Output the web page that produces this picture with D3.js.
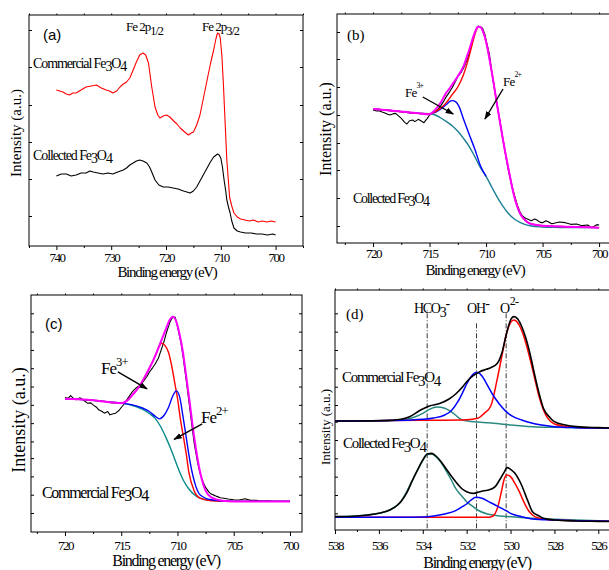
<!DOCTYPE html>
<html>
<head>
<meta charset="utf-8">
<script src="https://cdn.jsdelivr.net/npm/d3@7"></script>
<style>
body{margin:0;background:#fff}
.sf{font-family:"Liberation Serif","DejaVu Serif","Times New Roman",serif}
.ss{font-family:"Liberation Sans",Arial,sans-serif}
</style>
</head>
<body>
<svg id="fig" width="609" height="570"></svg>
<script>
// (a) Fe 2p survey, [binding energy eV, intensity a.u.]
const aCommercial = [[740,156],[739.4,155],[738.8,154],[738.2,152],[737.6,151],[737,153],[736.4,153],[735.5,156],[734.6,159],[733.6,160],[732.7,161],[731.8,158],[730.9,156],[730.3,155],[729.7,153],[729,155],[728.4,159],[727.8,162],[727.2,164],[726.6,168],[726,176],[725.4,184],[724.8,191],[724.2,193],[723.7,191],[723.2,183],[722.6,159],[722,139],[721.5,131],[721.1,128],[720.5,130],[719.9,131],[719.3,129],[718.6,125],[718,122],[717.4,118],[716.6,114],[715.9,111],[715.4,113],[715,114],[714.4,121],[713.8,131],[713.2,147],[712.5,166],[711.9,182],[711.3,196],[710.9,207],[710.6,213],[710.3,212],[710.1,208],[709.8,190],[709.5,159],[709.2,122],[708.9,86],[708.6,64],[708.4,49],[708,40],[707.6,33],[707,29],[706.4,27],[705.6,26],[704.8,25],[704,26],[703.2,24],[702.4,25],[701.6,24],[700.8,25],[700,24]]
const aCollected = [[740,70],[739.1,72],[738.2,72],[737.3,70],[736.4,71],[735.5,73],[734.6,73],[733.9,75],[733.3,74],[732.4,73],[731.5,72],[730.6,73],[729.7,72],[728.8,74],[727.8,76],[727.2,78],[726.6,81],[726,83],[725.4,85],[724.8,86],[724.2,85],[723.5,83],[723,79],[722.6,74],[722,66],[721.3,61],[720.5,59],[719.6,59],[718.7,58],[717.8,57],[716.8,55],[716.2,54],[715.6,53],[715,55],[714.4,59],[713.5,68],[712.5,78],[711.9,84],[711.3,89],[710.6,92],[710.3,91],[710,88],[709.7,79],[709.4,66],[709.1,55],[708.9,46],[708.6,39],[708.3,33],[708,25],[707.6,18],[707,15],[706.4,14],[705.5,13],[704.5,13],[703.5,12],[702.5,12],[701.5,11],[700.5,12],[700,11]]
const aYTicks = [30, 67, 104, 141, 179, 216]

// (b) collected Fe3O4, Fe 2p3/2 fit
const bData = [[720,399],[719.7,396],[719.5,397],[719.2,393],[719,391],[718.7,386],[718.5,384],[718.2,388],[718,389],[717.7,380],[717.5,374],[717.2,362],[717,357],[716.8,366],[716.5,369],[716.3,364],[716,371],[715.7,365],[715.5,361],[715.2,374],[715,384],[714.7,390],[714.5,394],[714.2,403],[714,412],[713.7,428],[713.5,440],[713.2,455],[713,466],[712.7,485],[712.5,500],[712.2,512],[712,524],[711.7,548],[711.5,569],[711.2,605],[711,629],[710.8,647],[710.7,651],[710.5,648],[710.3,644],[710.1,625],[710,609],[709.7,565],[709.5,514],[709.2,450],[709,409],[708.7,350],[708.5,309],[708.2,250],[708,214],[707.7,170],[707.5,144],[707.2,110],[707,94],[706.8,82],[706.5,74],[706.2,70],[706,67],[705.7,72],[705.5,69],[705.2,62],[705,61],[704.7,67],[704.5,64],[704.2,58],[704,59],[703.5,63],[703,61],[702.5,56],[702,57],[701.5,52],[701,54],[700.7,47],[700.5,49],[700.2,55],[700,54]]
const bEnvelope = [[720,402],[718,396],[716,389],[715,386],[714.7,393],[714.5,400],[714.2,412],[714,422],[713.7,440],[713.5,452],[713.2,465],[713,475],[712.5,500],[712,530],[711.5,579],[711,631],[710.8,646],[710.7,649],[710.5,648],[710.4,644],[710.2,628],[710,604],[709.5,514],[709,409],[708.5,309],[708,219],[707.5,139],[707,89],[706.5,67],[706,57],[705,52],[704,50],[703,49],[702,48],[700,46]]
const bFe2 = [[720,402],[718,396],[716,389],[715,387],[714.5,394],[714,405],[713.5,422],[713,445],[712.5,468],[712,505],[711.5,560],[711.2,600],[710.9,635],[710.7,648],[710.5,647],[710.4,644],[710.2,628],[710,604],[709.5,514],[709,409],[708.5,309],[708,219],[707.5,139],[707,89],[706.5,67],[706,57],[705,52],[704,50],[703,49],[702,48],[700,46]]
const bFe3 = [[720,402],[718,396],[716,389],[715,388],[714.5,392],[714,402],[713.5,416],[713.2,425],[713,427],[712.7,424],[712.4,410],[712,372],[711.5,326],[711,282],[710.5,232],[710,200]]
const bBackground = [[720,402],[718,396],[716,389],[715,388],[714.5,384],[714,375],[713.5,364],[713,352],[712.5,335],[712,314],[711.5,290],[711,259],[710.5,226],[710,200],[709.5,168],[709,137],[708.5,110],[708,88],[707.5,72],[707,62],[706.5,55],[706,51],[705,48],[704,47],[702,46],[700,46]]
const bYTicks = [51, 135, 219, 300, 384, 468, 552, 633]

// (c) commercial Fe3O4, Fe 2p3/2 fit
const cData = [[720,404],[719.7,402],[719.5,410],[719.2,400],[719,397],[718.7,403],[718.5,400],[718.2,392],[718,387],[717.7,388],[717.5,382],[717.2,375],[717,367],[716.7,362],[716.5,357],[716.2,362],[716,352],[715.7,355],[715.5,357],[715.2,365],[715,374],[714.7,386],[714.5,397],[714.2,412],[714,422],[713.7,432],[713.5,437],[713.2,446],[713,454],[712.7,468],[712.5,480],[712.2,494],[712,504],[711.7,522],[711.5,542],[711.2,572],[711,597],[710.7,628],[710.5,642],[710.3,646],[710.2,645],[710,617],[709.7,570],[709.5,527],[709.2,450],[709,397],[708.7,316],[708.5,264],[708.2,207],[708,177],[707.7,148],[707.5,134],[707.2,120],[707,114],[706.7,110],[706.5,107],[706.2,103],[706,102],[705.5,99],[705,97],[704.5,96],[704,100],[703.5,95],[703,95],[702.5,93],[702,94],[701.5,92],[701,92],[700,92]]
const cEnvelope = [[720,400],[718,397],[716,390],[715,387],[714.5,394],[714,412],[713.5,432],[713,460],[712.5,492],[712,527],[711.5,570],[711,612],[710.7,637],[710.4,647],[710.1,632],[709.8,592],[709.5,537],[709.2,462],[709,412],[708.5,282],[708,182],[707.5,124],[707,104],[706,94],[705,92],[700,92]]
const cFe3 = [[720,400],[718,397],[716,390],[715,387],[714.5,394],[714,412],[713.5,432],[713,460],[712.5,492],[712,527],[711.7,552],[711.4,567],[711.1,560],[710.8,540],[710.5,497],[710.2,440],[710,402],[709.7,330],[709.5,292],[709.2,230],[709,182],[708.5,122],[708,102],[707,94],[705,92],[700,92]]
const cFe2 = [[720,400],[718,397],[716,390],[715,387],[714,382],[713,371],[712.5,362],[712,348],[711.6,340],[711.2,350],[710.8,374],[710.4,410],[710.1,424],[709.8,405],[709.5,345],[709.2,280],[709,235],[708.5,152],[708,112],[707,97],[705,92],[700,92]]
const cBackground = [[720,400],[718,397],[716,390],[715,387],[714,380],[713,367],[712.5,356],[712,342],[711.5,317],[711,282],[710.5,242],[710,197],[709.5,157],[709,130],[708.5,112],[708,102],[707,95],[706,93],[705,92],[700,92]]
const cYTicks = [57, 112, 167, 222, 272, 327, 382, 437, 492, 547, 602, 657]

// (d) O 1s fits, commercial (upper) and collected (lower)
const dCommSum = [[538,327],[537,327],[536,328],[535.5,329],[535,332],[534.6,340],[534.1,360],[533.7,372],[533.2,380],[532.8,393],[532.5,408],[532.2,428],[532,445],[531.7,463],[531.4,475],[531.1,482],[530.9,487],[530.6,500],[530.4,530],[530.2,585],[530,630],[529.85,640],[529.7,635],[529.5,612],[529.3,575],[529.1,525],[528.9,465],[528.7,410],[528.5,365],[528.2,337],[528,325],[527.5,315],[527,310],[526,307],[525,305],[524,304]]
const dCommO = [[538,327],[536,328],[534,329],[532,331],[531.5,335],[531.2,350],[530.9,372],[530.6,455],[530.4,520],[530.2,585],[530,622],[529.85,630],[529.7,624],[529.5,600],[529.3,560],[529.1,510],[528.9,455],[528.7,400],[528.5,360],[528.3,335],[528,318],[527.5,311],[527,308],[526,306],[525,305],[524,304]]
const dCommOH = [[538,327],[536,328],[534.5,330],[534,332],[533.5,336],[533,345],[532.7,358],[532.4,385],[532.2,410],[532,438],[531.8,460],[531.55,473],[531.3,462],[531.1,440],[530.8,405],[530.5,377],[530.2,355],[529.9,341],[529.5,330],[529,320],[528.5,314],[528,310],[527,307],[526,306],[525,305],[524,304]]
const dCommHCO3 = [[538,327],[536,328],[535,330],[534.5,336],[534,350],[533.7,362],[533.35,369],[533,365],[532.6,350],[532.2,330],[531.5,324],[531,322],[530,315],[529,310],[528,308],[527,307],[526,306],[525,305],[524,304]]
const dCollSum = [[538,40],[537,42],[536.5,45],[536,50],[535.5,60],[535.2,72],[535,85],[534.7,115],[534.5,145],[534.2,185],[534,210],[533.8,228],[533.6,230],[533.4,222],[533.2,208],[533,190],[532.7,162],[532.5,145],[532.2,123],[532,115],[531.7,110],[531.4,115],[531.2,118],[531,120],[530.7,130],[530.5,150],[530.3,172],[530.15,187],[530,182],[529.8,170],[529.5,135],[529.2,85],[529,55],[528.7,42],[528.5,35],[528,30],[527,27],[526,26],[525,25],[524,25]]
const dCollHCO3 = [[538,40],[537,42],[536.5,45],[536,50],[535.5,60],[535,85],[534.5,145],[534.2,185],[534,208],[533.8,226],[533.6,228],[533.4,220],[533.2,205],[533,185],[532.7,150],[532.5,125],[532.2,100],[532,85],[531.7,70],[531.5,60],[531,47],[530.5,42],[530,40],[529,35],[528,32],[527,30],[526,28],[525,27],[524,26]]
const dCollOH = [[538,38],[535,38],[534,39],[533.5,42],[533,48],[532.5,58],[532.2,70],[532,78],[531.8,90],[531.57,98],[531.3,95],[531,85],[530.7,75],[530.5,68],[530.2,58],[530,50],[529.5,40],[529,33],[528,30],[527,28],[526,27],[525,26],[524,25]]
const dCollO = [[538,38],[535,38],[532,38],[531,38],[530.8,42],[530.6,65],[530.4,120],[530.3,150],[530.18,165],[530,160],[529.8,140],[529.6,115],[529.4,85],[529.2,60],[529,45],[528.7,35],[528.3,31],[528,30],[527,28],[526,27],[525,26],[524,25]]
const dRefEnergy = [533.8, 531.55, 530.2]
const dRefTop = [660, 625, 650]
const dYTicks = [50, 105, 160, 215, 270, 325, 375, 430, 485, 540, 595, 650]

const svg = d3.select("#fig")
svg.append("rect").attr("width", 609).attr("height", 570).attr("fill", "#fff")

svg.append("defs").append("marker")
  .attr("id", "arr").attr("viewBox", "0 0 10 10")
  .attr("refX", 9).attr("refY", 5)
  .attr("markerWidth", 6).attr("markerHeight", 6)
  .attr("orient", "auto")
  .append("path").attr("d", "M0,1.5 L10,5 L0,8.5 z").attr("fill", "#000")

function rich(g, x, y, parts, size, cls, ls) {
  const t = g.append("text").attr("class", cls)
    .attr("x", x).attr("y", y)
    .style("font-size", size + "px")
    .style("letter-spacing", ls + "px").attr("fill", "#000")
  let shift = 0
  parts.forEach(p => {
    const [str, s = 0, k = 1] = Array.isArray(p) ? p : [p]
    t.append("tspan").attr("dy", s - shift).style("font-size", (size * k) + "px").text(str)
    shift = s
  })
  return t
}

function panel(o) {
  const x = d3.scaleLinear().domain(o.xDomain).range([o.left, o.right])
  const y = d3.scaleLinear().domain(o.yDomain).range([o.bottom, o.top])
  const g = svg.append("g")

  const tickStyle = sel => {
    sel.select(".domain").remove()
    sel.selectAll("line").attr("stroke", "#000")
  }
  g.append("g").attr("transform", `translate(0,${o.bottom})`)
    .call(d3.axisBottom(x).tickValues(o.minor).tickSize(2).tickFormat(""))
    .call(tickStyle)
  g.append("g").attr("transform", `translate(0,${o.bottom})`)
    .call(d3.axisBottom(x).tickValues(o.major).tickSize(4).tickFormat(d3.format("d")))
    .call(tickStyle)
    .call(s => s.attr("font-family", null).attr("font-size", null))
    .call(s => s.selectAll("text")
      .attr("class", "sf")
      .attr("y", o.labelOffset).attr("dy", 0)
      .style("font-size", "13px")
      .style("letter-spacing", "-1.5px").attr("fill", "#000"))
  g.append("g").attr("transform", `translate(0,${o.top})`)
    .call(d3.axisTop(x).tickValues(o.major.concat(o.minor)).tickSize(1.5).tickFormat(""))
    .call(tickStyle)
  g.append("g").attr("transform", `translate(${o.left},0)`)
    .call(d3.axisLeft(y).tickValues(o.yTicks).tickSize(-3).tickFormat(""))
    .call(tickStyle)
  if (o.rightTicks) {
    g.append("g").attr("transform", `translate(${o.right},0)`)
      .call(d3.axisRight(y).tickValues(o.yTicks).tickSize(-3).tickFormat(""))
      .call(tickStyle)
  }
  g.append("rect")
    .attr("x", o.left).attr("y", o.top)
    .attr("width", o.right - o.left).attr("height", o.bottom - o.top)
    .attr("fill", "none").attr("stroke", "#000").attr("stroke-width", 1)

  g.append("text").attr("class", "sf")
    .attr("x", o.titleX).attr("y", o.titleY).attr("text-anchor", "middle")
    .style("font-size", o.titleSize + "px")
    .style("letter-spacing", "-1.3px").text("Binding energy (eV)")
  g.append("text").attr("class", "sf")
    .attr("transform", `translate(${o.yLabelX},${o.yLabelY}) rotate(-90)`)
    .attr("text-anchor", "middle")
    .style("font-size", o.yLabelSize + "px")
    .text("Intensity (a.u.)")

  const draw = (data, color, width, curve) => {
    g.append("path").datum(data)
      .attr("fill", "none").attr("stroke", color).attr("stroke-width", width)
      .attr("stroke-linejoin", "round")
      .attr("d", d3.line().x(d => x(d[0])).y(d => y(d[1])).curve(curve || d3.curveLinear))
  }
  const arrow = (e0, v0, e1, v1) => {
    g.append("line")
      .attr("x1", x(e0)).attr("y1", y(v0)).attr("x2", x(e1)).attr("y2", y(v1))
      .attr("stroke", "#000").attr("stroke-width", 1.4)
      .attr("marker-end", "url(#arr)")
  }
  return {g, x, y, draw, arrow}
}

const smooth = d3.curveMonotoneX

// (a)
const A = panel({
  left: 29, right: 303, top: 15, bottom: 246,
  xDomain: [745, 695], yDomain: [0, 231],
  major: [740, 730, 720, 710, 700], minor: [745, 735, 725, 715, 705, 695],
  yTicks: aYTicks, rightTicks: true, labelOffset: 16,
  titleX: 167, titleY: 277, titleSize: 15,
  yLabelX: 21, yLabelY: 133, yLabelSize: 15
})
A.draw(aCommercial, "#ff0000", 1.1)
A.draw(aCollected, "#000", 1.1)
rich(A.g, 43, 40, ["(a)"], 15, "ss", 0)
rich(A.g, 126, 31, ["Fe 2p", ["1/2", 4, 0.95]], 13, "sf", -1)
rich(A.g, 202, 31, ["Fe 2p", ["3/2", 4, 0.95]], 13, "sf", -1)
rich(A.g, 33, 68, ["Commercial Fe", ["3", 3], "O", ["4", 3]], 14, "sf", -1.1)
rich(A.g, 33, 160, ["Collected Fe", ["3", 3], "O", ["4", 3]], 14, "sf", -1.1)

// (b)
const B = panel({
  left: 337, right: 640, top: 14, bottom: 243,
  xDomain: [723.19, 696.38], yDomain: [0, 687],
  major: [720, 715, 710, 705, 700], minor: [722.5, 717.5, 712.5, 707.5, 702.5, 697.5],
  yTicks: bYTicks, rightTicks: false, labelOffset: 15,
  titleX: 475, titleY: 275, titleSize: 15,
  yLabelX: 331, yLabelY: 129, yLabelSize: 16
})
B.draw(bData, "#000", 1.1)
B.draw(bBackground, "#1a7f95", 1.4, smooth)
B.draw(bFe3, "#0000ff", 1.4, smooth)
B.draw(bFe2, "#ff0000", 1.4, smooth)
B.draw(bEnvelope, "#ff00ff", 2, smooth)
rich(B.g, 347, 40, ["(b)"], 15, "sf", 0)
rich(B.g, 405, 97, ["Fe", ["3+", -9, 0.6]], 13, "sf", -0.8)
rich(B.g, 503, 86, ["Fe", ["2+", -9, 0.6]], 13, "sf", -0.8)
B.arrow(715.6, 438, 712.9, 387)
B.arrow(708.5, 462, 710.1, 372)
rich(B.g, 353, 203, ["Collected Fe", ["3", 3], "O", ["4", 3]], 14, "sf", -1.3)

// (c)
const C = panel({
  left: 31, right: 302, top: 295, bottom: 532,
  xDomain: [723.02, 698.93], yDomain: [0, 712],
  major: [720, 715, 710, 705, 700], minor: [722.5, 717.5, 712.5, 707.5, 702.5],
  yTicks: cYTicks, rightTicks: true, labelOffset: 18,
  titleX: 166, titleY: 566, titleSize: 16,
  yLabelX: 25, yLabelY: 420, yLabelSize: 18
})
C.draw(cData, "#000", 1.1)
C.draw(cBackground, "#0a8a8a", 1.4, smooth)
C.draw(cFe3, "#ff0000", 1.4, smooth)
C.draw(cFe2, "#0000ff", 1.4, smooth)
C.draw(cEnvelope, "#ff00ff", 2, smooth)
rich(C.g, 45, 329, ["(c)"], 15, "ss", 0)
rich(C.g, 101, 374, ["Fe", ["3+", -8, 0.75]], 17, "sf", -1)
rich(C.g, 201, 423, ["Fe", ["2+", -8, 0.75]], 17, "sf", -1)
C.arrow(715.3, 481, 712.7, 430)
C.arrow(707.8, 325, 710.3, 278)
rich(C.g, 42, 498, ["Commercial Fe", ["3", 3], "O", ["4", 3]], 16, "sf", -1.3)

// (d)
const D = panel({
  left: 335, right: 640, top: 290, bottom: 530,
  xDomain: [538, 524.1], yDomain: [0, 720],
  major: [538, 536, 534, 532, 530, 528, 526], minor: [537, 535, 533, 531, 529, 527, 525],
  yTicks: dYTicks, rightTicks: false, labelOffset: 20,
  titleX: 477, titleY: 568, titleSize: 16,
  yLabelX: 330, yLabelY: 427, yLabelSize: 13
})
dRefEnergy.forEach((e, i) => {
  D.g.append("line")
    .attr("x1", D.x(e)).attr("x2", D.x(e))
    .attr("y1", D.y(5)).attr("y2", D.y(dRefTop[i]))
    .attr("stroke", "#000").attr("stroke-width", 0.8)
    .attr("stroke-dasharray", "5,2,1,2")
})
D.draw(dCommHCO3, "#2a8a80", 1.5, smooth)
D.draw(dCommO, "#ff0000", 1.5, smooth)
D.draw(dCommOH, "#0000ff", 1.5, smooth)
D.draw(dCommSum, "#000", 1.6, smooth)
D.draw(dCollHCO3, "#2a8a80", 1.5, smooth)
D.draw(dCollO, "#ff0000", 1.5, smooth)
D.draw(dCollOH, "#0000ff", 1.5, smooth)
D.draw(dCollSum, "#000", 1.6, smooth)
rich(D.g, 346, 319, ["(d)"], 15, "sf", 0)
rich(D.g, 414, 313, ["HCO", ["3", 4], ["-", -5]], 14, "sf", -1.3)
rich(D.g, 467, 313, ["OH", ["-", -5]], 14, "sf", -1)
rich(D.g, 500, 313, ["O", ["2-", -8, 0.85]], 14, "sf", -0.5)
rich(D.g, 342, 382, ["Commercial Fe", ["3", 4], "O", ["4", 4]], 15, "sf", -1.3)
rich(D.g, 343, 448, ["Collected Fe", ["3", 4], "O", ["4", 4]], 15, "sf", -1.3)
</script>
</body>
</html>
